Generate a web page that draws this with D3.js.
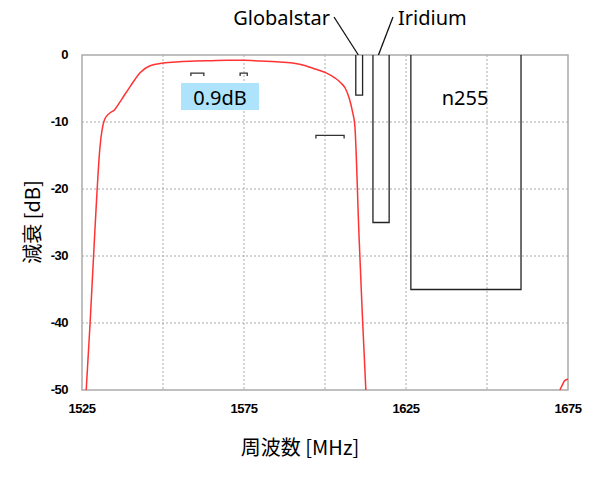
<!DOCTYPE html><html><head><meta charset="utf-8"><script src="https://cdn.jsdelivr.net/npm/d3@7"></script>
<style>body{margin:0;background:#fff}</style></head><body><svg id="c" width="600" height="480"></svg>
<script>
const freq=[1526.3,1527.5,1529,1530.5,1532,1533.5,1535,1537,1540,1543,1546,1550,1555,1560,1565,1570,1575,1580,1585,1590,1594,1597,1600.5,1603,1605,1606.3,1607.5,1608.5,1609.2,1610.5,1611.5,1612.6];
const atten=[-50,-40,-26,-14,-9.6,-8.7,-8.2,-6.8,-4.6,-2.6,-1.6,-1.2,-1.0,-0.9,-0.85,-0.8,-0.8,-0.9,-1.0,-1.2,-1.6,-2.1,-2.7,-3.4,-4.2,-5.0,-6.5,-8.5,-10.5,-27,-38.5,-50];
const tailF=[1672.5,1673.3,1674,1675];
const tailA=[-50,-49.2,-48.6,-48.4];
const bands=[{name:"Globalstar",f0:1609.5,f1:1611.6,depth:-6},{name:"Iridium",f0:1614.8,f1:1619.8,depth:-25},{name:"n255",f0:1626.5,f1:1660.5,depth:-35}];
const xTicks=[1525,1575,1625,1675], xGrid=[1550,1600,1650];
const yTicks=[0,-10,-20,-30,-40,-50];
const brackets=[{f0:1558.6,f1:1562.6,a:-2.7},{f0:1573.8,f1:1576,a:-2.7},{f0:1597.2,f1:1605.9,a:-12}];
const svg=d3.select("#c");
const x=d3.scaleLinear([1525,1675],[82,568]);
const y=d3.scaleLinear([-50,0],[390,55]);
const g=svg.append("g");
[...xTicks,...xGrid].forEach(v=>{if(v>1525&&v<1675)g.append("line").attr("x1",x(v)).attr("x2",x(v)).attr("y1",y(0)).attr("y2",y(-50)).attr("stroke","#aaa").attr("stroke-dasharray","2,2");});
yTicks.forEach(v=>{if(v<0&&v>-50)g.append("line").attr("x1",x(1525)).attr("x2",x(1675)).attr("y1",y(v)).attr("y2",y(v)).attr("stroke","#aaa").attr("stroke-dasharray","2,2");});
g.append("rect").attr("x",x(1525)).attr("y",y(0)).attr("width",x(1675)-x(1525)).attr("height",y(-50)-y(0)).attr("fill","none").attr("stroke","#aaa").attr("stroke-width",1.5);
const tf="Liberation Sans, Arial, sans-serif";
xTicks.forEach(v=>svg.append("text").attr("x",x(v)).attr("y",413).attr("text-anchor","middle").attr("font-family",tf).attr("font-weight","bold").attr("font-size",13).attr("letter-spacing",-0.5).text(v));
yTicks.forEach(v=>svg.append("text").attr("x",68).attr("y",y(v)+4).attr("text-anchor","end").attr("font-family",tf).attr("font-weight","bold").attr("font-size",13).attr("letter-spacing",-0.5).text(v));
bands.forEach(b=>svg.append("path").attr("d",`M${x(b.f0)},${y(0)}V${y(b.depth)}H${x(b.f1)}V${y(0)}`).attr("fill","none").attr("stroke","#222").attr("stroke-width",1.3));
const line=d3.line().x(d=>x(d[0])).y(d=>y(d[1])).curve(d3.curveMonotoneX);
svg.append("path").attr("d",line(freq.map((f,i)=>[f,atten[i]]))).attr("fill","none").attr("stroke","#f33").attr("stroke-width",1.5);
svg.append("path").attr("d",line(tailF.map((f,i)=>[f,tailA[i]]))).attr("fill","none").attr("stroke","#f33").attr("stroke-width",1.5);
brackets.forEach(b=>svg.append("path").attr("d",`M${x(b.f0)},${y(b.a)+3}V${y(b.a)}H${x(b.f1)}V${y(b.a)+3}`).attr("fill","none").attr("stroke","#333").attr("stroke-width",1.3));
const af="Noto Sans, sans-serif";
svg.append("rect").attr("x",181).attr("y",83).attr("width",78).attr("height",27).attr("fill","#aee4fb");
svg.append("text").attr("x",220).attr("y",105).attr("text-anchor","middle").attr("font-family",af).attr("font-size",20).text("0.9dB");
svg.append("text").attr("x",465).attr("y",105).attr("text-anchor","middle").attr("font-family",af).attr("font-size",20).text("n255");
svg.append("text").attr("x",330).attr("y",25).attr("text-anchor","end").attr("font-family",af).attr("font-size",20).text("Globalstar");
svg.append("text").attr("x",398).attr("y",25).attr("font-family",af).attr("font-size",20).text("Iridium");
svg.append("line").attr("x1",334).attr("y1",17).attr("x2",x(1610.3)).attr("y2",y(0)).attr("stroke","#111").attr("stroke-width",1.3);
svg.append("line").attr("x1",393).attr("y1",17).attr("x2",x(1616.5)).attr("y2",y(0)).attr("stroke","#111").attr("stroke-width",1.3);
svg.append("text").attr("x",300).attr("y",455).attr("text-anchor","middle").attr("font-family","Noto Sans CJK JP, sans-serif").attr("font-size",20).text("周波数 [MHz]");
svg.append("text").attr("transform","translate(40,222) rotate(-90)").attr("text-anchor","middle").attr("font-family","Noto Sans CJK JP, sans-serif").attr("font-size",20).text("減衰 [dB]");
</script></body></html>
